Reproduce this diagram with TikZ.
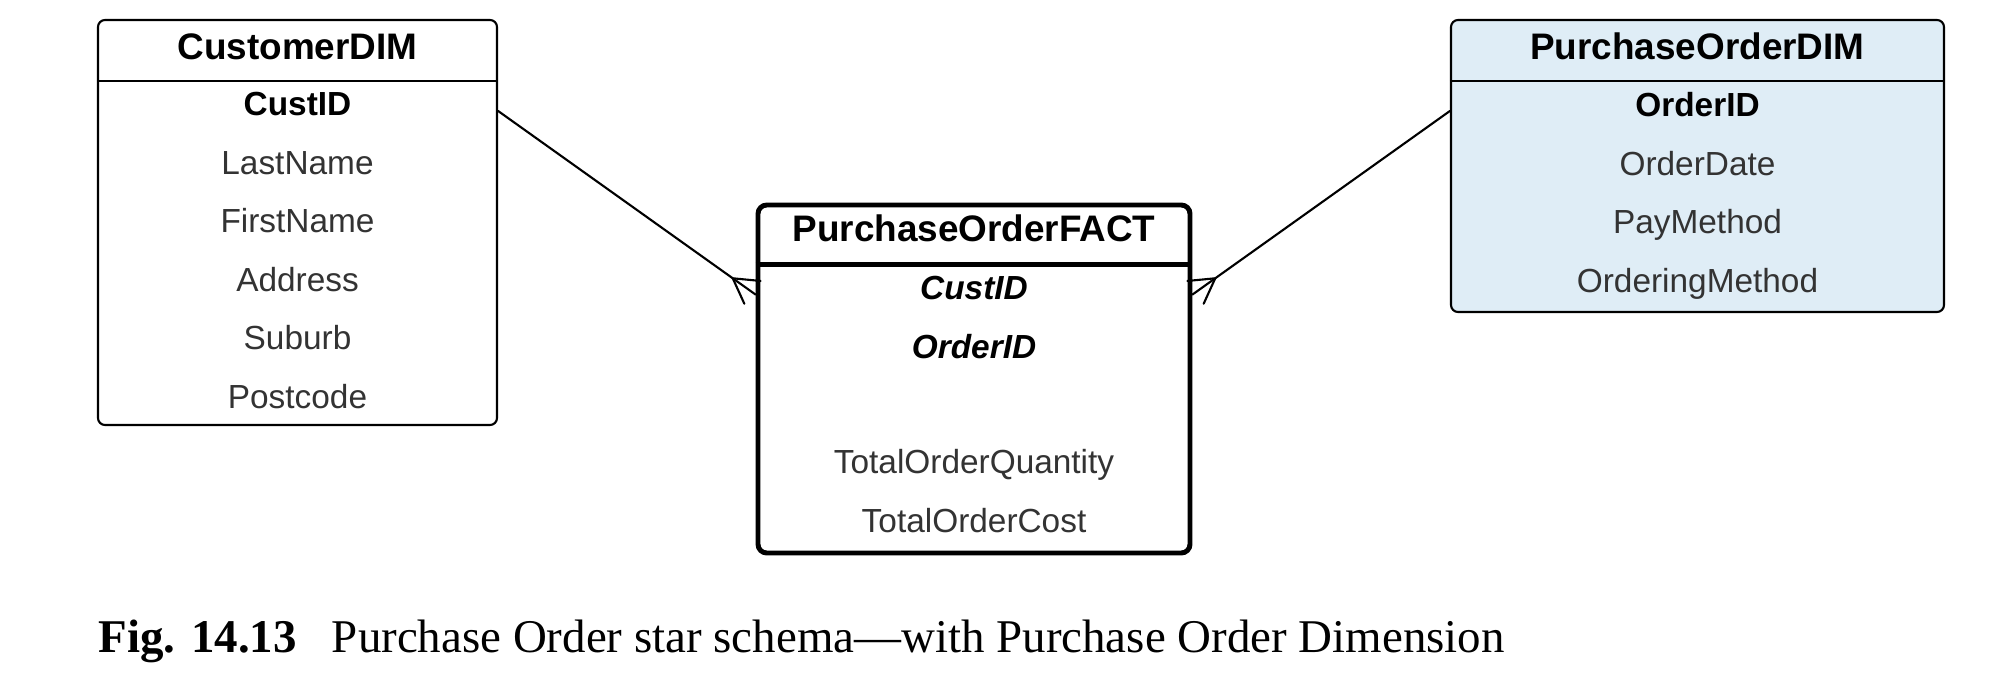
\documentclass[tikz,border=0pt]{standalone}
\usepackage{fontspec}
\setmainfont{Liberation Serif}
\newfontfamily\lucidfont{Liberation Sans}
\usetikzlibrary{positioning,calc}
\definecolor{dimblue}{HTML}{DFEDF6}
\definecolor{rowgray}{HTML}{333333}
\tikzstyle{conn} = [line width=0.6pt, black, line cap=round]

\begin{document}
\begin{tikzpicture}[node distance=0.2545cm,
  dimbox/.style={rectangle, draw=black, line width=0.6pt, rounded corners=2pt, inner sep=0pt},
  factbox/.style={rectangle, draw=black, line width=1.4pt, rounded corners=2.5pt, inner sep=0pt},
  tabtitle/.style={font=\lucidfont\bfseries\fontsize{10.5}{12}\selectfont, inner sep=0pt, anchor=base},
  tabrow/.style={font=\lucidfont\fontsize{9.5}{11}\selectfont, text=rowgray, inner sep=0pt, text height=7pt, text depth=2pt},
  keyrow/.style={tabrow, text=black, font=\lucidfont\bfseries\fontsize{9.5}{11}\selectfont},
  fkrow/.style={tabrow, text=black, font=\lucidfont\bfseries\itshape\fontsize{9.5}{11}\selectfont}]

\useasboundingbox (0,0) rectangle (20,-6.87);

% CustomerDIM
\node[dimbox, fill=white, minimum width=3.99cm, minimum height=4.05cm] (cust) at (2.975,-2.225) {};
\draw[dimbox] ($(cust.north west)+(0,-0.62)$) -- ($(cust.north east)+(0,-0.62)$);
\node[tabtitle] (custtitle) at ($(cust.north)+(0,-0.41)$) {CustomerDIM};
\node[keyrow, anchor=base] (custid) at ($(cust.north)+(0,-0.97)$) {CustID};
\node[tabrow, below=of custid] (lastname) {LastName};
\node[tabrow, below=of lastname] (firstname) {FirstName};
\node[tabrow, below=of firstname] (address) {Address};
\node[tabrow, below=of address] (suburb) {Suburb};
\node[tabrow, below=of suburb] (postcode) {Postcode};

% PurchaseOrderFACT
\node[factbox, fill=white, minimum width=4.32cm, minimum height=3.48cm] (fact) at (9.74,-3.79) {};
\draw[line width=1.4pt] ($(fact.north west)+(0,-0.62)$) -- ($(fact.north east)+(0,-0.62)$);
\node[tabtitle] (facttitle) at ($(fact.north)+(0,-0.39)$) {PurchaseOrderFACT};
\node[fkrow, anchor=base] (factcust) at ($(fact.north)+(0,-0.97)$) {CustID};
\node[fkrow, below=of factcust] (factorder) {OrderID};
\node[tabrow, below=0.8265cm of factorder] (totalqty) {TotalOrderQuantity};
\node[tabrow, below=of totalqty] (totalcost) {TotalOrderCost};

% PurchaseOrderDIM
\node[dimbox, fill=dimblue, minimum width=4.93cm, minimum height=2.92cm] (pod) at (16.975,-1.66) {};
\draw[dimbox] ($(pod.north west)+(0,-0.62)$) -- ($(pod.north east)+(0,-0.62)$);
\node[tabtitle] (podtitle) at ($(pod.north)+(0,-0.41)$) {PurchaseOrderDIM};
\node[keyrow, anchor=base] (orderid) at ($(pod.north)+(0,-0.98)$) {OrderID};
\node[tabrow, below=of orderid] (orderdate) {OrderDate};
\node[tabrow, below=of orderdate] (paymethod) {PayMethod};
\node[tabrow, below=of paymethod] (ordering) {OrderingMethod};

% links with crow's feet at the fact table
\coordinate (custout) at ($(cust.north east)+(0,-0.92)$);
\coordinate (factinl) at ($(fact.north west)+(0,-0.92)$);
\coordinate (podout) at ($(pod.north west)+(0,-0.92)$);
\coordinate (factinr) at ($(fact.north east)+(0,-0.92)$);
\coordinate (footl) at ($(factinl)!0.28cm!(custout)$);
\coordinate (footr) at ($(factinr)!0.28cm!(podout)$);

\draw[conn] (custout) -- (factinl);
\draw[conn] ($(footl)!1!30:(factinl)$) -- (footl) -- ($(footl)!1!-30:(factinl)$);
\draw[conn] (podout) -- (factinr);
\draw[conn] ($(footr)!1!30:(factinr)$) -- (footr) -- ($(footr)!1!-30:(factinr)$);

% caption
\node[anchor=base west, inner sep=0pt, font=\fontsize{13.35}{15}\selectfont] (caption) at (0.98,-6.52)
  {\textbf{Fig. 14.13}\hspace{0.75em}Purchase Order star schema—with Purchase Order Dimension};
\end{tikzpicture}
\end{document}
